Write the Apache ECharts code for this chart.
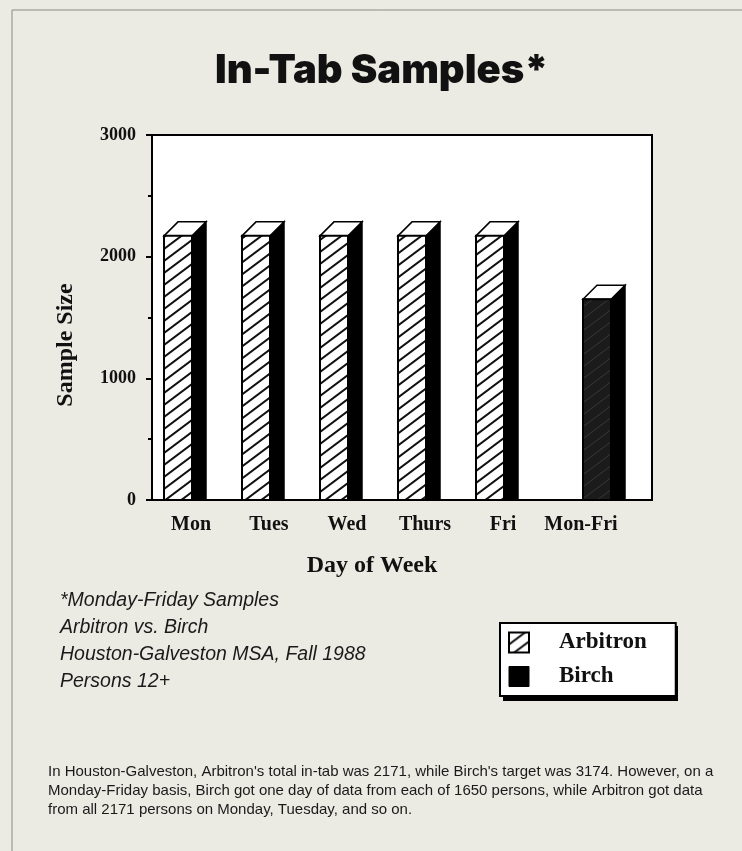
<!DOCTYPE html>
<html>
<head>
<meta charset="utf-8">
<script src="https://cdn.jsdelivr.net/npm/echarts@6/dist/echarts.min.js"></script>
<style>
  html, body { margin: 0; padding: 0; background: #ecebe3; }
  #chart { width: 742px; height: 851px; }
</style>
</head>
<body>
<div id="chart"></div>
<script>
// data
var days = ["Mon", "Tues", "Wed", "Thurs", "Fri", "Mon-Fri"];
var arbitron = [2171, 2171, 2171, 2171, 2171, null];
var birch = [null, null, null, null, null, 1650];
var yTicks = [0, 1000, 2000, 3000];

var notes = [
  "*Monday-Friday Samples",
  "Arbitron vs. Birch",
  "Houston-Galveston MSA, Fall 1988",
  "Persons 12+"
];
var caption = [
  "In Houston-Galveston, Arbitron's total in-tab was 2171, while Birch's target was 3174. However, on a",
  "Monday-Friday basis, Birch got one day of data from each of 1650 persons, while Arbitron got data",
  "from all 2171 persons on Monday, Tuesday, and so on."
];

var serif = "'Liberation Serif', 'DejaVu Serif', serif";
var sans = "'Liberation Sans', Arial, sans-serif";

// diagonal hatch tile for Arbitron
function hatchTile(bg, fg, lw) {
  var c = document.createElement("canvas");
  c.width = 16;
  c.height = 12;
  var ctx = c.getContext("2d");
  ctx.fillStyle = bg;
  ctx.fillRect(0, 0, 16, 12);
  ctx.strokeStyle = fg;
  ctx.lineWidth = lw;
  ctx.beginPath();
  ctx.moveTo(-16, 12); ctx.lineTo(16, -12);
  ctx.moveTo(0, 12); ctx.lineTo(16, 0);
  ctx.moveTo(0, 24); ctx.lineTo(32, 0);
  ctx.stroke();
  return c;
}
var hatch = { image: hatchTile("#ffffff", "#111111", 2), repeat: "repeat" };
var darkHatch = { image: hatchTile("#1b1b1b", "#3a3a3a", 1), repeat: "repeat" };

// 3D box bar
function boxBar(offset, fill) {
  return function (params, api) {
    var v = api.value(1);
    if (v == null || isNaN(v)) return;
    var top = api.coord([api.value(0), v]);
    var base = api.coord([api.value(0), 0]);
    var w = 28, d = 14;
    var x = Math.round(top[0] + offset - w / 2);
    var y = top[1];
    return {
      type: "group",
      children: [
        {
          type: "polygon",
          shape: { points: [[x + w, y], [x + w + d, y - d], [x + w + d, base[1]], [x + w, base[1]]] },
          style: { fill: "#000", stroke: "#000", lineWidth: 1.5 }
        },
        {
          type: "polygon",
          shape: { points: [[x, y], [x + d, y - d], [x + w + d, y - d], [x + w, y]] },
          style: { fill: "#fff", stroke: "#000", lineWidth: 1.5 }
        },
        {
          type: "rect",
          shape: { x: x, y: y, width: w, height: base[1] - y },
          style: { fill: fill, stroke: "#000", lineWidth: 2 }
        }
      ]
    };
  };
}

var chart = echarts.init(document.getElementById("chart"));

var graphics = [
  {
    type: "rect", z: -10, silent: true,
    shape: { x: 12, y: 10, width: 740, height: 860 },
    style: { fill: "none", stroke: "#8a8a84", lineWidth: 1 }
  },
  {
    type: "rect", z: -5, silent: true,
    shape: { x: 152, y: 135, width: 500, height: 365 },
    style: { fill: "#fff", stroke: "#000", lineWidth: 2 }
  },
  {
    // legend box shadow
    type: "rect", z: 5, silent: true,
    shape: { x: 503, y: 626, width: 175, height: 75 },
    style: { fill: "#000" }
  },
  {
    type: "text", x: 66, y: 345, rotation: Math.PI / 2, silent: true,
    style: { text: "Sample Size", font: "bold 24px " + serif, fill: "#111", align: "center", verticalAlign: "middle" }
  },
  {
    type: "text", x: 372, y: 566, silent: true,
    style: { text: "Day of Week", font: "bold 24px " + serif, fill: "#111", align: "center", verticalAlign: "middle" }
  }
];
notes.forEach(function (t, i) {
  graphics.push({
    type: "text", left: 60, top: 591 + i * 27,
    style: { text: t, font: "italic 19.5px " + sans, fill: "#1a1a1a" }
  });
});
caption.forEach(function (t, i) {
  graphics.push({
    type: "text", left: 48, top: 764 + i * 19,
    style: { text: t, font: "15px " + sans, fill: "#1a1a1a" }
  });
});

var option = {
  backgroundColor: "#ecebe3",
  animation: false,
  title: {
    text: "In-Tab Samples*",
    left: 210,
    top: 46,
    textStyle: { fontFamily: "Inter, 'Liberation Sans', sans-serif", fontWeight: 900, fontSize: 40, color: "#111" }
  },
  legend: {
    orient: "vertical",
    left: 500,
    top: 623,
    z: 6,
    padding: [8, 29, 8, 8],
    itemGap: 11,
    itemWidth: 20,
    itemHeight: 20,
    backgroundColor: "#fff",
    borderColor: "#000",
    borderWidth: 2,
    textStyle: { fontFamily: serif, fontWeight: "bold", fontSize: 23, color: "#111", padding: [0, 0, 0, 25] },
    data: [
      { name: "Arbitron", icon: "rect", itemStyle: { color: hatch, borderColor: "#000", borderWidth: 2 } },
      { name: "Birch", icon: "rect", itemStyle: { color: "#000", borderColor: "#000", borderWidth: 1 } }
    ]
  },
  graphic: graphics,
  grid: { left: 152, top: 135, width: 468, height: 365 },
  xAxis: {
    type: "category",
    data: days,
    axisLine: { lineStyle: { color: "#000", width: 2 } },
    axisTick: { length: 4, lineStyle: { color: "#000", width: 2 } },
    axisLabel: { interval: 0, fontFamily: serif, fontWeight: "bold", fontSize: 20, color: "#111", margin: 15 },
    splitLine: { show: false }
  },
  yAxis: {
    type: "value",
    min: yTicks[0],
    max: yTicks[yTicks.length - 1],
    interval: 1000,
    axisLine: { show: true, lineStyle: { color: "#000", width: 2 } },
    axisTick: { show: true, length: 6, lineStyle: { color: "#000", width: 2 } },
    minorTick: { show: true, splitNumber: 2, length: 4, lineStyle: { color: "#000", width: 2 } },
    axisLabel: {
      fontFamily: serif, fontWeight: "bold", fontSize: 18, color: "#111", margin: 16,
      formatter: function (v) { return String(v); }
    },
    splitLine: { show: false }
  },
  series: [
    {
      name: "Arbitron",
      type: "custom",
      itemStyle: { color: hatch },
      renderItem: boxBar(-13, hatch),
      data: arbitron.map(function (v, i) { return [i, v == null ? "-" : v]; })
    },
    {
      name: "Birch",
      type: "custom",
      itemStyle: { color: "#000" },
      renderItem: boxBar(16, darkHatch),
      data: birch.map(function (v, i) { return [i, v == null ? "-" : v]; })
    }
  ]
};

chart.setOption(option);
</script>
</body>
</html>
